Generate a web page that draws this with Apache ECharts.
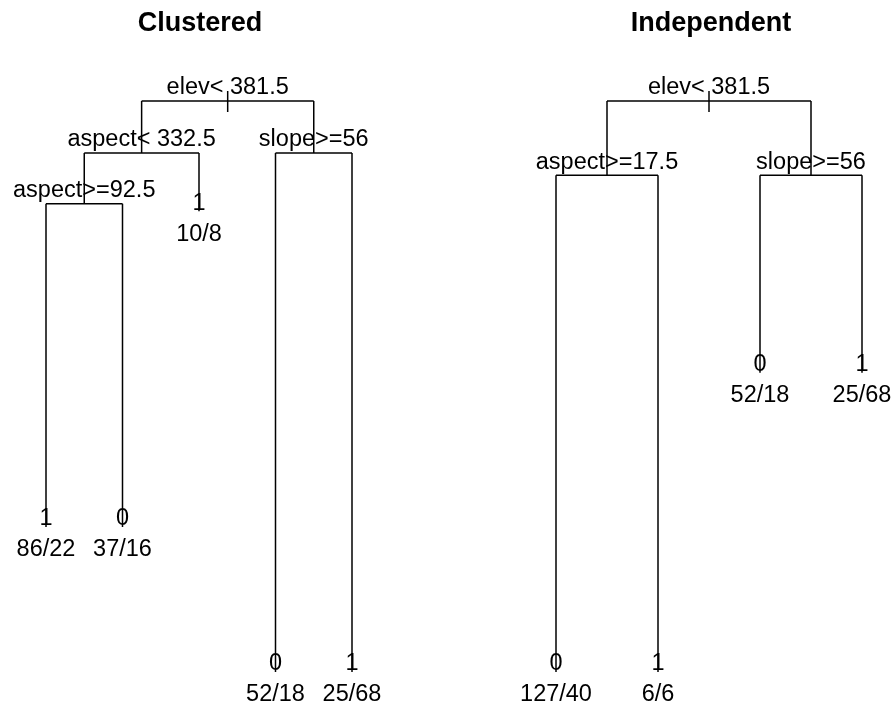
<!DOCTYPE html>
<html>
<head>
<meta charset="utf-8">
<script src="https://cdn.jsdelivr.net/npm/echarts@6/dist/echarts.min.js"></script>
<style>html,body{margin:0;padding:0;background:#fff;}#c{width:895px;height:709px;}</style>
</head>
<body>
<div id="c"></div>
<script>
// ---- data ----
const panelTitles = ['Clustered', 'Independent'];

// Clustered tree (preorder)
const clusteredLabels = ['elev< 381.5', 'aspect< 332.5', 'aspect>=92.5', '1', '0', '1', 'slope>=56', '0', '1'];
const clusteredParent = [-1, 0, 1, 2, 2, 1, 0, 6, 6];
const clusteredHeight = [1.0, 0.909, 0.820, 0.254, 0.254, 0.807, 0.909, 0.0, 0.0];
const clusteredCounts = ['', '', '', '86/22', '37/16', '10/8', '', '52/18', '25/68'];

// Independent tree (preorder)
const independentLabels = ['elev< 381.5', 'aspect>=17.5', '0', '1', 'slope>=56', '0', '1'];
const independentParent = [-1, 0, 1, 1, 0, 4, 4];
const independentHeight = [1.0, 0.870, 0.0, 0.0, 0.870, 0.524, 0.524];
const independentCounts = ['', '', '127/40', '6/6', '', '52/18', '25/68'];

// ---- layout (leaf order spacing, internal = midpoint of children) ----
function buildTree(labels, parent, height, counts) {
  const n = labels.length;
  const children = labels.map(() => []);
  parent.forEach((p, i) => { if (p >= 0) children[p].push(i); });
  const x = new Array(n);
  let leaf = 0;
  (function visit(i) {
    if (children[i].length === 0) { x[i] = ++leaf; }
    else {
      children[i].forEach(visit);
      const c = children[i];
      x[i] = (x[c[0]] + x[c[c.length - 1]]) / 2;
    }
  })(0);
  return { labels, parent, height, counts, children, x, nLeaves: leaf };
}
const trees = [
  buildTree(clusteredLabels, clusteredParent, clusteredHeight, clusteredCounts),
  buildTree(independentLabels, independentParent, independentHeight, independentCounts)
];

const FONT = 'Liberation Sans, Arial, sans-serif';
const FS = 23.5;
const LW = 1.5;

function renderItem(params, api) {
  const t = trees[params.seriesIndex];
  const i = params.dataIndex;
  const p = api.coord([t.x[i], t.height[i]]);
  const els = [];
  const ls = { stroke: '#000', lineWidth: LW };
  const ch = t.children[i];
  if (ch.length) {
    const a = api.coord([t.x[ch[0]], t.height[ch[0]]]);
    const b = api.coord([t.x[ch[ch.length - 1]], t.height[ch[ch.length - 1]]]);
    els.push({ type: 'line', shape: { x1: a[0], y1: p[1], x2: b[0], y2: p[1] }, style: ls });
    ch.forEach(c => {
      const q = api.coord([t.x[c], t.height[c]]);
      els.push({ type: 'line', shape: { x1: q[0], y1: p[1], x2: q[0], y2: q[1] }, style: ls });
    });
    els.push({ type: 'text', x: p[0], y: p[1] - 1, style: { text: t.labels[i], fill: '#000', font: FS + 'px ' + FONT, align: 'center', verticalAlign: 'bottom' }, z2: 5 });
    if (t.parent[i] < 0) {
      els.push({ type: 'line', shape: { x1: p[0], y1: p[1] - 10, x2: p[0], y2: p[1] + 11 }, style: ls });
    }
  } else {
    els.push({ type: 'text', x: p[0], y: p[1] + 4, style: { text: t.labels[i], fill: '#000', font: FS + 'px ' + FONT, align: 'center', verticalAlign: 'bottom' } });
    els.push({ type: 'text', x: p[0], y: p[1] + 11, style: { text: t.counts[i], fill: '#000', font: FS + 'px ' + FONT, align: 'center', verticalAlign: 'top' } });
  }
  return { type: 'group', children: els };
}

const chart = echarts.init(document.getElementById('c'), null, { renderer: 'canvas' });
const gridPos = [{ left: 46, top: 101, width: 306, height: 571 }, { left: 556, top: 101, width: 306, height: 571 }];
const titleX = [195, 706];

chart.setOption({
  animation: false,
  backgroundColor: '#fff',
  title: panelTitles.map((txt, k) => ({
    text: txt, left: titleX[k], top: 5, textAlign: 'center',
    textStyle: { fontFamily: FONT, fontWeight: 'bold', fontSize: 27, color: '#000' }
  })),
  grid: gridPos,
  xAxis: trees.map((t, k) => ({ type: 'value', gridIndex: k, min: 1, max: t.nLeaves, show: false })),
  yAxis: trees.map((t, k) => ({ type: 'value', gridIndex: k, min: 0, max: 1, show: false })),
  series: trees.map((t, k) => ({
    type: 'custom', xAxisIndex: k, yAxisIndex: k, clip: false,
    renderItem: renderItem,
    data: t.x.map((xv, i) => [xv, t.height[i]])
  }))
});
</script>
</body>
</html>
